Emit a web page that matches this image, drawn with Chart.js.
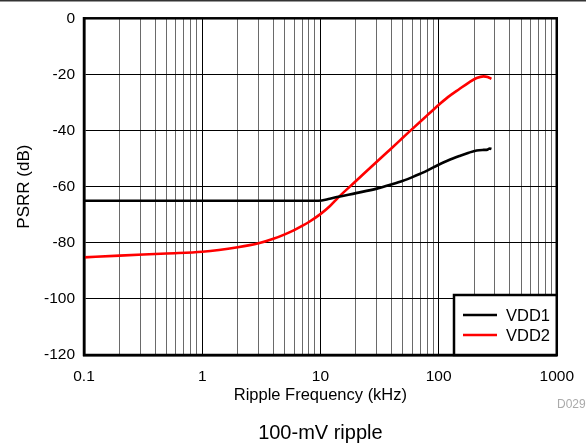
<!DOCTYPE html>
<html>
<head>
<meta charset="utf-8">
<script src="https://cdn.jsdelivr.net/npm/chart.js@4"></script>
<style>
html,body{margin:0;padding:0;background:#fff;}
#wrap{position:relative;width:586px;height:445px;}
canvas{display:block;}
</style>
</head>
<body>
<div id="wrap"><canvas id="c" width="586" height="445"></canvas></div>
<script>
// ---- data ----
const vdd1Freq = [0.1, 0.2, 0.5, 1, 2, 5, 9.6, 12, 14.2, 20, 30, 40, 50, 60, 70, 80, 100, 120, 150, 180, 210, 240, 260, 270, 280];
const vdd1Psrr = [-65, -65, -65, -65, -65, -65, -65, -64.3, -63.6, -62.3, -60.7, -59.2, -57.9, -56.6, -55.4, -54.3, -52.2, -50.7, -49.1, -47.9, -47.1, -46.9, -46.8, -46.4, -46.6];
const vdd2Freq = [0.1, 0.2, 0.5, 1, 2, 3, 4, 5, 6, 7, 8, 10, 12, 14.2, 20, 30, 40, 50, 60, 80, 100, 120, 150, 180, 210, 240, 260, 280];
const vdd2Psrr = [-85.2, -84.6, -83.8, -83.2, -81.6, -80.2, -78.6, -77.0, -75.5, -74.0, -72.6, -69.8, -67.0, -63.8, -58.0, -51.1, -46.3, -42.5, -39.4, -34.6, -30.9, -28.1, -25.2, -22.9, -21.3, -20.7, -20.9, -21.6];
const seriesNames = ['VDD1', 'VDD2'];
const seriesColors = ['#000000', '#ff0000'];
const xDecades = [0.1, 1, 10, 100, 1000];
const xTickLabels = ['0.1', '1', '10', '100', '1000'];
const yTicks = [0, -20, -40, -60, -80, -100, -120];
const xTitle = 'Ripple Frequency (kHz)';
const yTitle = 'PSRR (dB)';
const chartTitle = '100-mV ripple';
const figureId = 'D029';

const FONT = "'Liberation Sans', Arial, Helvetica, sans-serif";

function isDecade(v) {
  const l = Math.log10(v);
  return Math.abs(l - Math.round(l)) < 1e-6;
}

const allXTicks = [];
for (let d = 0; d < xDecades.length; d++) {
  const base = xDecades[d];
  if (d === xDecades.length - 1) { allXTicks.push(base); break; }
  for (let m = 1; m <= 9; m++) allXTicks.push(+(base * m).toPrecision(6));
}

const toPts = (xs, ys) => xs.map((x, i) => ({x: x, y: ys[i]}));

const framePlugin = {
  id: 'frame',
  afterDatasetsDraw(chart) {
    const {ctx, chartArea: a} = chart;
    ctx.save();
    ctx.strokeStyle = '#000';
    ctx.lineWidth = 2.5;
    ctx.strokeRect(a.left, a.top, a.right - a.left, a.bottom - a.top);
    ctx.restore();
  },
  afterDraw(chart) {
    const {ctx, chartArea: a} = chart;
    ctx.save();
    // top rule across the figure
    ctx.fillStyle = '#333';
    ctx.fillRect(0, 0, chart.width, 1.5);
    // legend box
    const bx = 454, by = 295, bw = a.right - 454, bh = a.bottom - 295;
    ctx.fillStyle = '#fff';
    ctx.fillRect(bx, by, bw, bh);
    ctx.strokeStyle = '#000';
    ctx.lineWidth = 2.5;
    ctx.strokeRect(bx, by, bw, bh);
    ctx.font = "16.5px " + FONT;
    ctx.textBaseline = 'middle';
    ctx.textAlign = 'left';
    chart.data.datasets.forEach((ds, i) => {
      const y = 315 + i * 20;
      ctx.strokeStyle = ds.borderColor;
      ctx.lineWidth = 2.5;
      ctx.beginPath();
      ctx.moveTo(463, y);
      ctx.lineTo(497, y);
      ctx.stroke();
      ctx.fillStyle = '#000';
      ctx.fillText(ds.label, 506, y + 1);
    });
    // figure id
    ctx.fillStyle = '#aaa';
    ctx.font = "12px " + FONT;
    ctx.textAlign = 'left';
    ctx.fillText(figureId, 557, 405);
    ctx.restore();
  }
};

new Chart(document.getElementById('c'), {
  type: 'scatter',
  data: {
    datasets: [
      {label: seriesNames[0], data: toPts(vdd1Freq, vdd1Psrr), showLine: true, borderColor: seriesColors[0], backgroundColor: seriesColors[0], borderWidth: 2.6, pointRadius: 0, cubicInterpolationMode: 'monotone'},
      {label: seriesNames[1], data: toPts(vdd2Freq, vdd2Psrr), showLine: true, borderColor: seriesColors[1], backgroundColor: seriesColors[1], borderWidth: 2.6, pointRadius: 0, cubicInterpolationMode: 'monotone'}
    ]
  },
  options: {
    responsive: false,
    animation: false,
    devicePixelRatio: 1,
    layout: {padding: {left: 0, right: 26, top: 18, bottom: 0}},
    plugins: {
      legend: {display: false},
      tooltip: {enabled: false},
      title: {
        display: true, position: 'bottom', fullSize: false, text: chartTitle, color: '#000',
        font: {family: FONT, size: 20, weight: 'normal', lineHeight: 1.2},
        padding: {top: 11, bottom: 0}
      }
    },
    scales: {
      x: {
        type: 'logarithmic', min: xDecades[0], max: xDecades[xDecades.length - 1],
        afterBuildTicks(s) { s.ticks = allXTicks.map(v => ({value: v})); },
        afterFit(s) { s.height = 55; },
        ticks: {
          autoSkip: false, maxRotation: 0, padding: 12, color: '#000',
          font: {family: FONT, size: 15.5},
          callback(v) { const i = xDecades.findIndex(d => Math.abs(d - v) < 1e-9); return i >= 0 ? xTickLabels[i] : ''; }
        },
        grid: {
          drawTicks: false,
          color: c => (c.tick && isDecade(c.tick.value)) ? '#000' : '#6a6a6a',
          lineWidth: 1
        },
        border: {display: true, color: '#000', width: 2.5},
        title: {display: true, text: xTitle, color: '#000', font: {family: FONT, size: 16.5}, padding: {top: 0, bottom: 5}}
      },
      y: {
        min: yTicks[yTicks.length - 1], max: yTicks[0],
        afterBuildTicks(s) { s.ticks = yTicks.slice().reverse().map(v => ({value: v})); },
        afterFit(s) { s.width = 84; },
        ticks: {padding: 9, color: '#000', font: {family: FONT, size: 15.5}},
        grid: {drawTicks: false, color: '#000', lineWidth: 1},
        border: {display: true, color: '#000', width: 2.5},
        title: {display: true, text: yTitle, color: '#000', font: {family: FONT, size: 17}, padding: {top: 14, bottom: 0}}
      }
    }
  },
  plugins: [framePlugin]
});
</script>
</body>
</html>
